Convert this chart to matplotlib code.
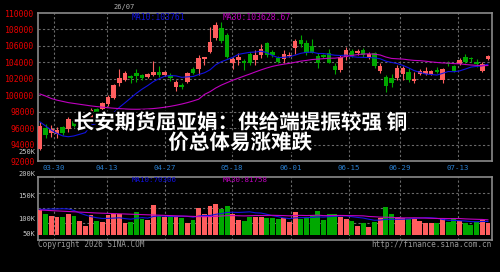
import matplotlib
matplotlib.use("Agg")
import matplotlib.pyplot as plt
import matplotlib.patheffects as pe
import numpy as np

# ---------------- data ----------------
opens = [93400, 96000, 95370, 95250, 96100, 95850, 96900, 95900, 96500, 96900,
         98300, 98300, 98900, 99650, 101500, 101850, 102300, 102730, 102450, 102250,
         102450, 102850, 102450, 102450, 100950, 101230, 101630, 103250, 103250, 104350,
         105280, 106900, 108120, 107310, 103860, 104270, 104110, 105000, 104300, 104950,
         106300, 105200, 104470, 104350, 104800, 105690, 106700, 106380, 106010, 104760,
         104850, 105160, 103540, 103050, 104670, 105410, 105080, 105490, 104590, 105080,
         102970, 102160, 102040, 102040, 102570, 102850, 101760, 102570, 102570, 102570,
         103050, 101840, 103950, 103540, 103780, 104590, 104470, 104060, 102970, 104430]
highs = [96800, 96500, 96370, 96100, 96300, 97400, 97200, 96900, 97300, 98500,
         98500, 99200, 100000, 101400, 103150, 102900, 102450, 103250, 102550, 102720,
         104190, 103540, 102980, 102720, 101840, 101430, 102850, 103460, 104880, 104700,
         108320, 108930, 108930, 107510, 104670, 105080, 104350, 105200, 105500, 106200,
         106500, 105500, 104750, 105480, 105200, 106780, 107310, 106700, 106780, 105080,
         105000, 105570, 103860, 104880, 105890, 105570, 105600, 105700, 105200, 105280,
         103860, 102440, 102570, 103660, 103540, 103260, 102850, 103130, 103460, 103050,
         103460, 103260, 104190, 103660, 104470, 105000, 104670, 104350, 104060, 104880]
lows = [93300, 94800, 94950, 94800, 95200, 95500, 96100, 95700, 96300, 96600,
        97700, 98000, 98700, 99500, 101100, 101700, 101500, 101630, 101850, 102050,
        102320, 102240, 102320, 101750, 100540, 100700, 101430, 102560, 102440, 103660,
        105080, 106700, 106380, 104470, 103200, 103660, 103050, 103700, 103700, 104500,
        104700, 104670, 103860, 103950, 104600, 105000, 105890, 104880, 105080, 103260,
        104470, 103860, 102570, 102850, 104270, 104590, 104900, 104700, 104400, 103260,
        102730, 100420, 101030, 101840, 101840, 101630, 101510, 102440, 102440, 102400,
        102650, 101510, 103540, 102850, 103660, 103860, 104060, 103460, 102850, 104270]
closes = [96300, 95200, 95850, 95800, 95450, 97100, 96300, 96600, 97000, 98200,
          98000, 99000, 99750, 101250, 102050, 102700, 102050, 102320, 102050, 102560,
          102850, 102450, 102850, 102040, 101630, 100950, 102650, 102730, 104470, 104670,
          106500, 108530, 106620, 104590, 104350, 104590, 103950, 103900, 104850, 105600,
          104850, 104950, 104100, 105000, 104950, 106620, 106170, 105080, 105160, 103950,
          104700, 103950, 103050, 104670, 105490, 104760, 105410, 104880, 105000, 103540,
          103540, 101110, 101510, 103260, 103260, 101840, 101920, 102930, 102930, 102930,
          102850, 103130, 103800, 102970, 104270, 104060, 104350, 103780, 103780, 104760]
volumes = [132500, 109700, 100700, 97000, 93800, 109700, 100700, 74200, 49300, 106000,
           74200, 70500, 106000, 111300, 111300, 65200, 70500, 123500, 83200, 79500,
           159000, 100700, 93800, 97000, 100700, 88500, 62000, 79500, 144700, 111300,
           155300, 164300, 136200, 153700, 109700, 79500, 75800, 97000, 93800, 97000,
           91700, 88500, 84800, 88500, 70500, 121900, 86400, 97000, 106000, 125600,
           79500, 111300, 111300, 97000, 83200, 72600, 49300, 62000, 44000, 70500,
           91700, 150000, 112900, 97000, 88500, 83200, 83200, 75800, 65200, 65200,
           65200, 88500, 70500, 88500, 74200, 65200, 53000, 67300, 79500, 65200]
# moving-average values before enough candles are on the chart
ma10_head = [96750, 96250, 95750, 95350, 95050, 94950, 95050, 95250, 95450]
ma30_head = [100150, 99900, 99600, 99400, 99250, 99100, 99000, 98900, 98800, 98700,
             98620, 98550, 98480, 98420, 98370, 98330, 98300, 98290, 98300, 98330,
             98380, 98450, 98540, 98650, 98780, 98930, 99100, 99300, 99520]
vol_ma10_head = [136200, 136200, 137800, 137800, 139400, 137800, 129900, 116600, 106000]
vol_ma30_head = [132500, 130900, 129300, 127700, 126200, 124600, 123000, 121400, 119800,
                 118200, 116600, 115500, 114500, 113400, 112400, 111300, 110200, 109200,
                 108100, 107100, 106000, 104900, 103900, 102800, 101800, 100700, 99600,
                 98600, 97500]

date_labels = ['03-30', '04-13', '04-27', '05-18', '06-01', '06-15', '06-29', '07-13']
date_idx = [2.5, 11.8, 22.0, 33.9, 44.3, 54.5, 63.5, 73.7]
price_ticks = [92000, 94000, 96000, 98000, 100000, 102000, 104000, 106000, 108000, 110000]
vol_labels = ['250K', '200K', '150K', '100K', '50K']
price_ma_text = ['MA10:103761', 'MA30:103628.67']
vol_ma_text = ['MA10:70306', 'MA30:81758']
title_lines = ['长安期货屈亚娟：供给端提振较强 铜', '价总体易涨难跌']
top_text = '26/07'
copyright_text = 'Copyright 2026 SINA.COM'
url_text = 'http://finance.sina.com.cn'

# ---------------- style ----------------
RED = '#ff5e5e'
GREEN = '#00a800'
BLUE = '#1212e0'
MAGENTA = '#c000c0'
GRID = '#6a6a6a'
BORDER = '#8a8a8a'
MONO = 'DejaVu Sans Mono'

W, H = 500, 272
fig = plt.figure(figsize=(W / 100, H / 100), dpi=100, facecolor='black')


def rect(l, t, r, b):
    return [l / W, 1 - b / H, (r - l) / W, (b - t) / H]


def rolling(vals, head, n):
    out = []
    for i in range(len(vals)):
        if i < n - 1:
            out.append(head[i])
        else:
            out.append(float(np.mean(vals[i - n + 1:i + 1])))
    return out


n = len(closes)
x = np.arange(n)
o = np.array(opens, float)
c = np.array(closes, float)
up = c >= o
cols = [RED if u else GREEN for u in up]
xlim = (-0.35, n - 0.28)

# ---------------- price panel ----------------
ax = fig.add_axes(rect(38, 13, 492, 161))
ax.set_facecolor('black')
ax.set_xlim(*xlim)
ax.set_ylim(price_ticks[0], price_ticks[-1])
for yv in price_ticks[1:-1]:
    ax.axhline(yv, color=GRID, lw=0.8, ls=(0, (2, 2)), zorder=1)
for xv in date_idx:
    ax.axvline(xv, color=GRID, lw=0.8, ls=(0, (2, 2)), zorder=1)

ax.vlines(x, lows, highs, colors=cols, lw=0.8, zorder=3)
body_bottom = np.minimum(o, c)
body_h = np.maximum(np.abs(c - o), 60)
ax.bar(x, body_h, bottom=body_bottom, width=0.8, color=cols, lw=0, zorder=4)

ax.plot(x, rolling(closes, ma10_head, 10), color=BLUE, lw=0.8, zorder=5)
ax.plot(x, rolling(closes, ma30_head, 30), color=MAGENTA, lw=0.8, zorder=5)

ax.set_yticks(price_ticks)
ax.set_yticklabels([str(v) for v in price_ticks], color='#e80000', fontsize=5.9,
                   family=MONO)
ax.set_xticks(date_idx)
ax.set_xticklabels(date_labels, color='#2a7fd0', fontsize=5.3, family=MONO)
ax.tick_params(length=0, pad=2.4)
ax.tick_params(axis='x', pad=3.0)
for s in ax.spines.values():
    s.set_color(BORDER)
    s.set_linewidth(1.2)

# ---------------- volume panel ----------------
axv = fig.add_axes(rect(38, 177, 492, 240))
axv.set_facecolor('black')
axv.set_xlim(*xlim)
vscale = 5300.0  # volume per pixel
axv.set_ylim(-5 * vscale, 58 * vscale)
for f in [(240 - 192.7) / 63, (240 - 207.7) / 63, (240 - 222.7) / 63]:
    axv.plot([0, 1], [f, f], transform=axv.transAxes, color=GRID, lw=0.8,
             ls=(0, (2, 2)), zorder=1)
for xv in date_idx:
    axv.axvline(xv, color=GRID, lw=0.8, ls=(0, (2, 2)), zorder=1)
axv.bar(x, volumes, width=0.85, color=cols, lw=0, zorder=3)
axv.plot(x, rolling(volumes, vol_ma10_head, 10), color=BLUE, lw=0.8, zorder=5)
axv.plot(x, rolling(volumes, vol_ma30_head, 30), color=MAGENTA, lw=0.8, zorder=5)
axv.set_xticks([])
axv.set_yticks([])
for s in axv.spines.values():
    s.set_color(BORDER)
    s.set_linewidth(1.2)


def ftext(px, py, s, **kw):
    fig.text(px / W, 1 - py / H, s, **kw)


# volume labels (left side)
for lab, py in zip(vol_labels, [152.5, 174, 196, 219, 234]):
    ftext(35, py, lab, ha='right', va='center', color='#c8c8c8', fontsize=5.0,
          family=MONO)

# MA labels
ftext(132, 17, price_ma_text[0], ha='left', va='center', color=BLUE, fontsize=5.8,
      family=MONO)
ftext(223, 17, price_ma_text[1], ha='left', va='center', color=MAGENTA, fontsize=5.8,
      family=MONO)
ftext(132, 180.5, vol_ma_text[0], ha='left', va='center', color=BLUE, fontsize=5.4,
      family=MONO)
ftext(223, 180.5, vol_ma_text[1], ha='left', va='center', color=MAGENTA, fontsize=5.4,
      family=MONO)

ftext(124, 6.5, top_text, ha='center', va='center', color='#b0b0b0', fontsize=5.0,
      family=MONO)
ftext(38, 244.5, copyright_text, ha='left', va='center', color='#9a9a9a',
      fontsize=5.6, family=MONO)
ftext(492, 244.5, url_text, ha='right', va='center', color='#9a9a9a', fontsize=5.6,
      family=MONO)

# overlay headline
stroke = [pe.withStroke(linewidth=3, foreground='black')]
ftext(240, 122.5, title_lines[0], ha='center', va='center', color='white',
      fontsize=14.8, fontweight='heavy', family=['Noto Sans CJK SC', 'DejaVu Sans'],
      path_effects=stroke, zorder=10)
ftext(240, 142.5, title_lines[1], ha='center', va='center', color='white',
      fontsize=14.8, fontweight='heavy', family=['Noto Sans CJK SC', 'DejaVu Sans'],
      path_effects=stroke, zorder=10)

fig.savefig('out.png', dpi=100, facecolor='black')
